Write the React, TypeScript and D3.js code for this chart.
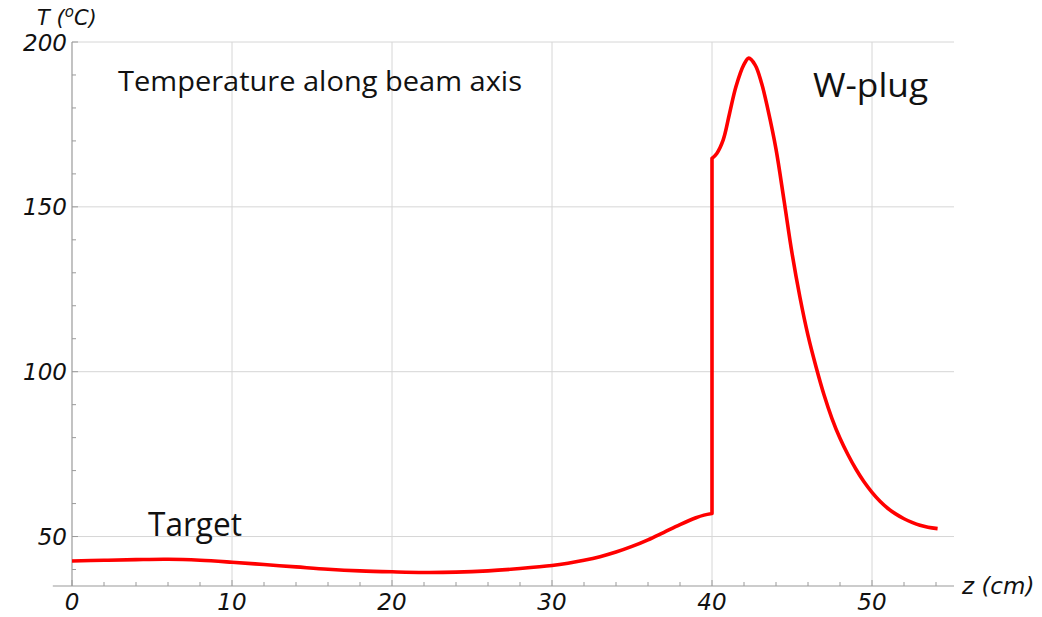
import React from "react";
import * as d3 from "d3";

const zLow = [0, 2, 4, 6, 8, 10, 12, 14, 16, 18, 20, 22, 24, 26, 28, 30, 31, 32, 33, 34, 35, 36, 37, 38, 39, 39.5, 40];
const tLow = [42.6, 42.8, 43.0, 43.1, 42.8, 42.2, 41.5, 40.8, 40.1, 39.6, 39.3, 39.1, 39.2, 39.6, 40.3, 41.2, 41.9, 42.8, 43.9, 45.3, 47.0, 49.0, 51.3, 53.6, 55.7, 56.5, 57.0];

const zHigh = [40, 40.3, 40.7, 41.1, 41.5, 42.0, 42.3, 42.7, 43.1, 43.5, 44.0, 44.5, 45.0, 45.5, 46.0, 46.5, 47.0, 47.5, 48.0, 48.5, 49.0, 49.5, 50.0, 50.5, 51.0, 51.5, 52.0, 52.5, 53.0, 53.5, 54.1];
const tHigh = [164.7, 166.2, 170.3, 178.4, 186.5, 193.2, 195.1, 193.0, 187.5, 179.4, 167.5, 152.0, 136.0, 122.5, 111.0, 101.5, 93.0, 85.8, 79.8, 74.8, 70.4, 66.6, 63.4, 60.7, 58.5, 56.8, 55.4, 54.3, 53.4, 52.8, 52.4];

const xMajor = [0, 10, 20, 30, 40, 50];
const xMinor = [2, 4, 6, 8, 12, 14, 16, 18, 22, 24, 26, 28, 32, 34, 36, 38, 42, 44, 46, 48, 52, 54];
const yMajor = [50, 100, 150, 200];
const yMinor = [40, 60, 70, 80, 90, 110, 120, 130, 140, 160, 170, 180, 190];

const W = 1042;
const H = 617;

export default function App() {
  const x = d3.scaleLinear().domain([0, 55.125]).range([72, 954]);
  const y = d3.scaleLinear().domain([35, 200]).range([586, 42]);
  const xAxisStart = x(-1.2);
  const xEnd = x(55.125);

  const line = d3
    .line<[number, number]>()
    .x((d) => x(d[0]))
    .y((d) => y(d[1]))
    .curve(d3.curveCatmullRom.alpha(0.5));

  const low = zLow.map((z, i) => [z, tLow[i]] as [number, number]);
  const high = zHigh.map((z, i) => [z, tHigh[i]] as [number, number]);
  const pA = line(low) || "";
  const pB = (line(high) || "").replace(/^M/, "L");
  const path = pA + pB;

  const grid = "#d6d6d6";
  const axisCol = "#9a9a9a";
  const tickFont = "'DejaVu Sans', sans-serif";
  const annFont = "'Open Sans', 'Noto Sans', sans-serif";

  return (
    <svg width={W} height={H} style={{ position: "absolute", left: 0, top: 0, background: "#fff" }}>
      {/* grid */}
      {xMajor.filter((v) => v > 0).map((v) => (
        <line key={"gx" + v} x1={x(v)} x2={x(v)} y1={y(200)} y2={y(35)} stroke={grid} strokeWidth={1} />
      ))}
      {yMajor.map((v) => (
        <line key={"gy" + v} x1={x(0)} x2={xEnd} y1={y(v)} y2={y(v)} stroke={grid} strokeWidth={1} />
      ))}
      {/* axes */}
      <line x1={xAxisStart} x2={xEnd} y1={y(35)} y2={y(35)} stroke={axisCol} strokeWidth={1.2} />
      <line x1={x(0)} x2={x(0)} y1={y(200)} y2={y(35)} stroke={axisCol} strokeWidth={1.2} />
      {/* ticks */}
      {xMajor.map((v) => (
        <line key={"tx" + v} x1={x(v)} x2={x(v)} y1={y(35)} y2={y(35) - 6} stroke={axisCol} strokeWidth={1} />
      ))}
      {xMinor.map((v) => (
        <line key={"mx" + v} x1={x(v)} x2={x(v)} y1={y(35)} y2={y(35) - 4} stroke={axisCol} strokeWidth={1} />
      ))}
      {yMajor.map((v) => (
        <line key={"ty" + v} x1={x(0)} x2={x(0) + 6} y1={y(v)} y2={y(v)} stroke={axisCol} strokeWidth={1} />
      ))}
      {yMinor.map((v) => (
        <line key={"my" + v} x1={x(0)} x2={x(0) + 4} y1={y(v)} y2={y(v)} stroke={axisCol} strokeWidth={1} />
      ))}
      {/* tick labels */}
      {xMajor.map((v) => (
        <text key={"lx" + v} x={x(v)} y={610} textAnchor="middle" fontFamily={tickFont} fontStyle="italic" fontSize={23} fill="#111">
          {v}
        </text>
      ))}
      {yMajor.map((v) => (
        <text key={"ly" + v} x={67} y={y(v) + 8.5} textAnchor="end" fontFamily={tickFont} fontStyle="italic" fontSize={23} fill="#111">
          {v}
        </text>
      ))}
      {/* axis titles */}
      <text x={962} y={594} fontFamily={tickFont} fontStyle="italic" fontSize={23} fill="#111">
        z (cm)
      </text>
      <text x={37} y={25} fontFamily={tickFont} fontStyle="italic" fontSize={21} fill="#111">
        {"T ("}
        <tspan dy={-8} fontSize={15}>o</tspan>
        <tspan dy={8}>C)</tspan>
      </text>
      {/* curve */}
      <path d={path} fill="none" stroke="#ff0000" strokeWidth={3.6} strokeLinejoin="round" />
      {/* annotations */}
      <text x={118} y={91} fontFamily={annFont} fontSize={28} fill="#111" textLength={404} lengthAdjust="spacingAndGlyphs">
        Temperature along beam axis
      </text>
      <text x={148} y={536} fontFamily={annFont} fontSize={32} fill="#111" textLength={94} lengthAdjust="spacingAndGlyphs">
        Target
      </text>
      <text x={813} y={97} fontFamily={annFont} fontSize={33} fill="#111" textLength={115} lengthAdjust="spacingAndGlyphs">
        W-plug
      </text>
    </svg>
  );
}
